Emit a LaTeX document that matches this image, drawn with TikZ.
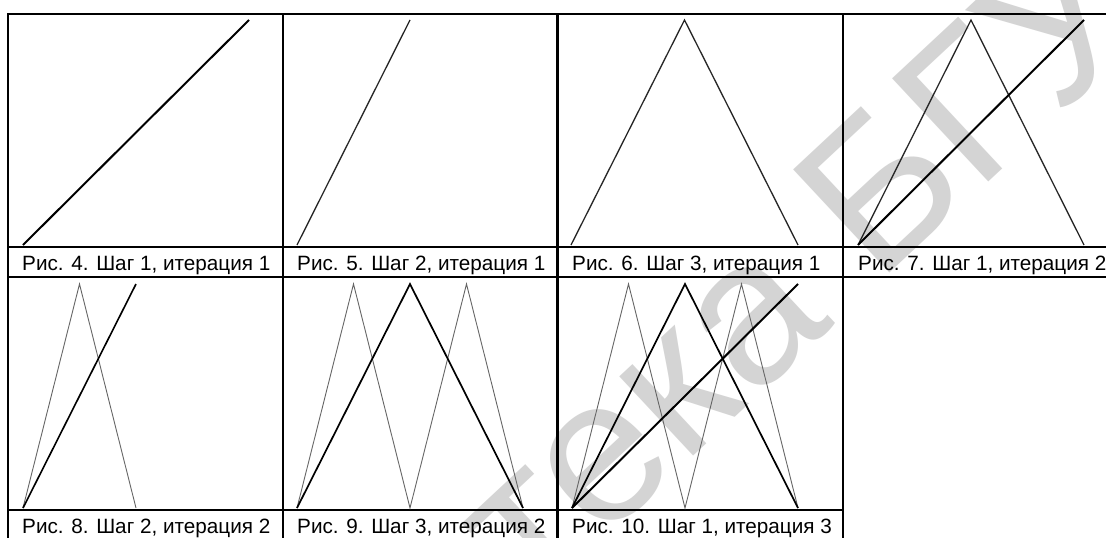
\documentclass[tikz,border=0pt]{standalone}
\usepackage{fontspec}
\setmainfont{Liberation Sans}
\definecolor{wmgray}{RGB}{212,212,212}
\begin{document}
\begin{tikzpicture}[x=1pt,y=-1pt,
  rule/.style={line width=2.4pt, line cap=rect},
  fineline/.style={line width=0.9pt, draw=black!60},
  midline/.style={line width=1.3pt, draw=black!85},
  boldline/.style={line width=2pt, draw=black},
  figcap/.style={anchor=base west, inner sep=0pt, font=\fontsize{20.7}{24}\selectfont},
  wm/.style={text=wmgray, inner sep=0pt, font=\fontsize{205}{205}\selectfont}
]
\useasboundingbox (0,0) rectangle (1106,538);
\fill[white] (0,0) rectangle (1106,538);

% library stamp behind the table
\node[wm, rotate=43] (stamp) at (640,405) {Библиотека БГУИР};

% table rules
\draw[rule] (8,14) -- (1107,14);
\draw[rule] (8,247) -- (1107,247);
\draw[rule] (8,277) -- (1107,277);
\draw[rule] (8,510) -- (843,510);
\foreach \x in {8,283,557.5,843}
  \draw[rule] (\x,14) -- (\x,539);

% row 1: base y = 245, top y = 20
\coordinate (a0) at (23,245);  \coordinate (a1) at (249,20);
\draw[boldline] (a0) -- (a1);

\coordinate (b0) at (297,245); \coordinate (b1) at (410,20);
\draw[midline] (b0) -- (b1);

\coordinate (c0) at (571,245); \coordinate (c1) at (684.5,20); \coordinate (c2) at (798,245);
\draw[midline] (c0) -- (c1) -- (c2);

\coordinate (d0) at (858,245); \coordinate (d1) at (971,20); \coordinate (d2) at (1084,245);
\coordinate (d3) at (1084,20);
\draw[midline] (d0) -- (d1) -- (d2);
\draw[boldline] (d0) -- (d3);

% row 2: base y = 508, top y = 284
\coordinate (e0) at (23,508); \coordinate (e1) at (79.5,284); \coordinate (e2) at (136,508);
\coordinate (e3) at (136,284);
\draw[fineline] (e0) -- (e1) -- (e2);
\draw[boldline, line width=1.6pt] (e0) -- (e3);

\coordinate (f0) at (297,508); \coordinate (f1) at (353.5,284); \coordinate (f2) at (410,508);
\coordinate (f3) at (466.5,284); \coordinate (f4) at (523,508); \coordinate (f5) at (410,284);
\draw[fineline] (f0) -- (f1) -- (f2) -- (f3) -- (f4);
\draw[boldline, line width=1.7pt] (f0) -- (f5) -- (f4);

\coordinate (g0) at (572,508); \coordinate (g1) at (628.5,284); \coordinate (g2) at (685,508);
\coordinate (g3) at (741.5,284); \coordinate (g4) at (798,508); \coordinate (g5) at (685,284);
\coordinate (g6) at (798,284);
\draw[fineline] (g0) -- (g1) -- (g2) -- (g3) -- (g4);
\draw[boldline, line width=1.7pt] (g0) -- (g5) -- (g4);
\draw[boldline] (g0) -- (g6);

% captions
\node[figcap] (t4) at (22,270) {Рис. 4. Шаг 1, итерация 1};
\node[figcap] (t5) at (297,270) {Рис. 5. Шаг 2, итерация 1};
\node[figcap] (t6) at (572,270) {Рис. 6. Шаг 3, итерация 1};
\node[figcap] (t7) at (858,270) {Рис. 7. Шаг 1, итерация 2};
\node[figcap] (t8) at (22,533) {Рис. 8. Шаг 2, итерация 2};
\node[figcap] (t9) at (297,533) {Рис. 9. Шаг 3, итерация 2};
\node[figcap] (t10) at (572,533) {Рис. 10. Шаг 1, итерация 3};
\end{tikzpicture}
\end{document}
